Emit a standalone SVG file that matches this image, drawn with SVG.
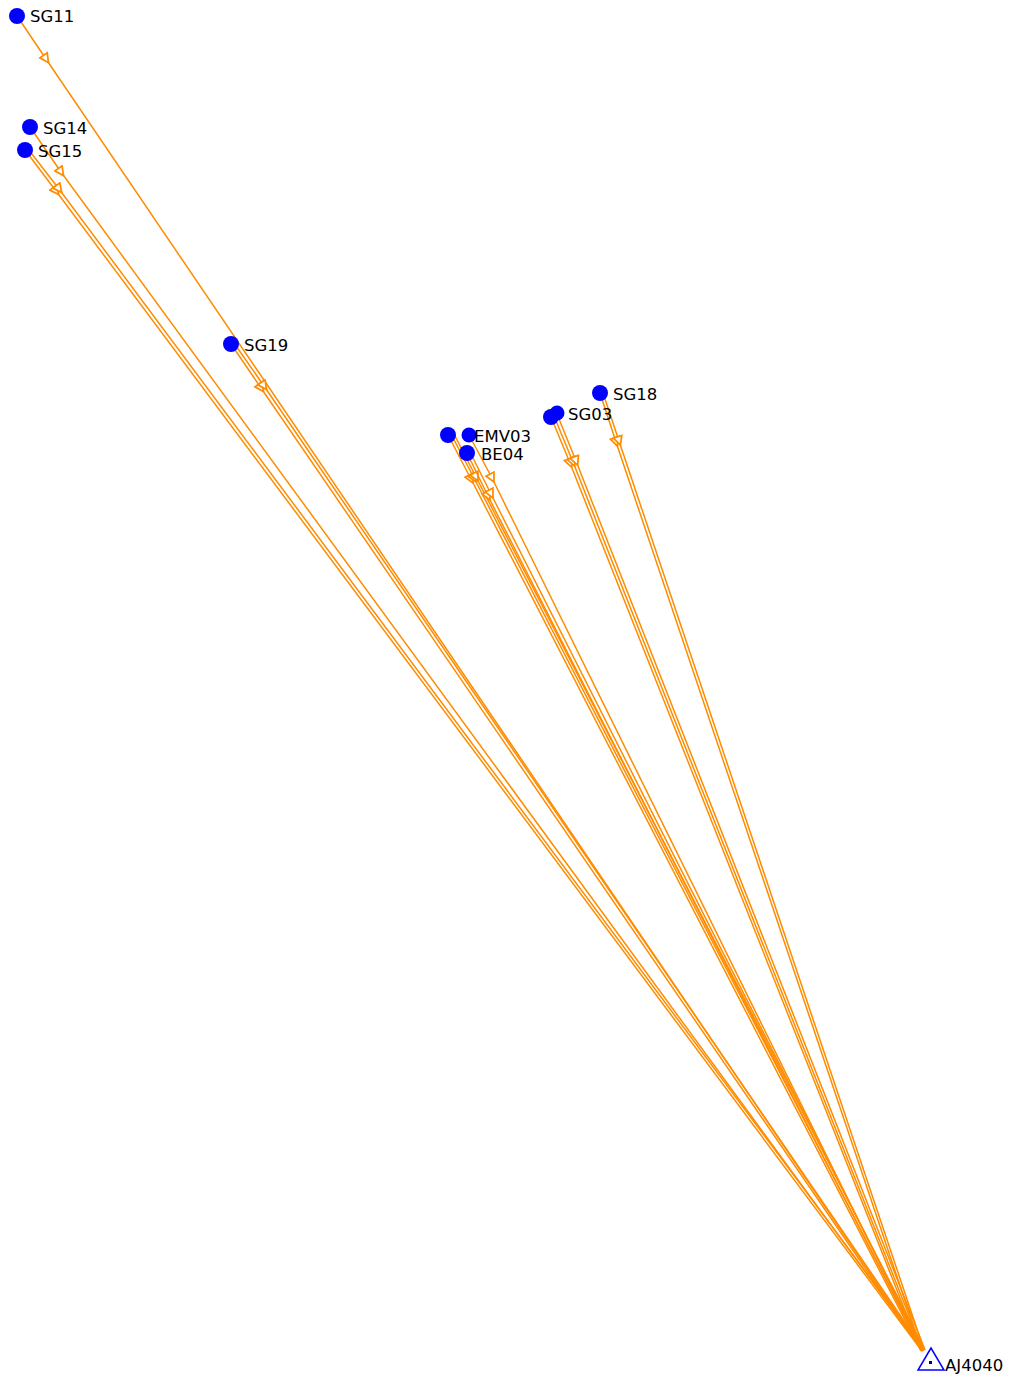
<svg xmlns="http://www.w3.org/2000/svg" width="1018" height="1384" viewBox="0 0 1018 1384">
<style>
.e{fill:none;stroke:#ff8c00;stroke-width:1.5;marker-mid:url(#arr)}
.n{fill:#0000ff}
.t{font-family:"DejaVu Sans",sans-serif;font-size:16.5px;fill:#000}
</style>
<defs>
<marker id="arr" viewBox="0 0 10 10" refX="5" refY="5" markerWidth="11" markerHeight="11" markerUnits="userSpaceOnUse" orient="auto">
<path d="M1,1 L9,5 L1,9 Z" fill="#fff" stroke="#ff8c00" stroke-width="1.6"/>
</marker>
</defs>
<rect width="1018" height="1384" fill="#fff"/>
<g id="connectors">
<path class="e" d="M17,16 L46,59 L923,1351"/>
<path class="e" d="M30,127 L61,172 L923,1351"/>
<path class="e" d="M25,150 L56,191 L922,1351"/>
<path class="e" d="M28,149 L59,189 L924,1350"/>
<path class="e" d="M231,344 L261,388 L922,1351"/>
<path class="e" d="M234,343 L264,386 L924,1350"/>
<path class="e" d="M448,435 L471,479 L921,1351"/>
<path class="e" d="M451,434 L474,478 L923,1351"/>
<path class="e" d="M454,434 L476,477 L925,1350"/>
<path class="e" d="M469,435 L492,478 L923,1351"/>
<path class="e" d="M467,453 L488,496 L922,1351"/>
<path class="e" d="M470,452 L491,494 L924,1350"/>
<path class="e" d="M551,417 L570,463 L921,1351"/>
<path class="e" d="M554,416 L573,462 L923,1351"/>
<path class="e" d="M557,414 L576,461 L925,1350"/>
<path class="e" d="M600,393 L616,442 L922,1351"/>
<path class="e" d="M603,393 L619,441 L924,1350"/>
</g>
<g id="SG11"><circle class="n" cx="17" cy="16" r="8"/><text class="t" x="30" y="22">SG11</text></g>
<g id="SG14"><circle class="n" cx="30" cy="127" r="8"/><text class="t" x="43" y="134">SG14</text></g>
<g id="SG15"><circle class="n" cx="25" cy="150" r="8"/><text class="t" x="38" y="157">SG15</text></g>
<g id="SG19"><circle class="n" cx="231" cy="344" r="8"/><text class="t" x="244" y="351">SG19</text></g>
<g id="node448"><circle class="n" cx="448" cy="435" r="8"/></g>
<g id="EMV03"><circle class="n" cx="469" cy="435" r="7.5"/><text class="t" x="474" y="442">EMV03</text></g>
<g id="BE04"><circle class="n" cx="467" cy="453" r="8"/><text class="t" x="481" y="460">BE04</text></g>
<g id="node551"><circle class="n" cx="551" cy="417" r="8"/></g>
<g id="SG03"><circle class="n" cx="557" cy="413" r="7.5"/><text class="t" x="568" y="420">SG03</text></g>
<g id="SG18"><circle class="n" cx="600" cy="393" r="8"/><text class="t" x="613" y="400">SG18</text></g>
<g id="AJ4040"><polygon points="931,1348 918,1370 944,1370" fill="none" stroke="#0000ff" stroke-width="1.5"/><rect x="929" y="1361" width="3" height="3" fill="#000080"/><text class="t" x="945" y="1371">AJ4040</text></g>
</svg>
